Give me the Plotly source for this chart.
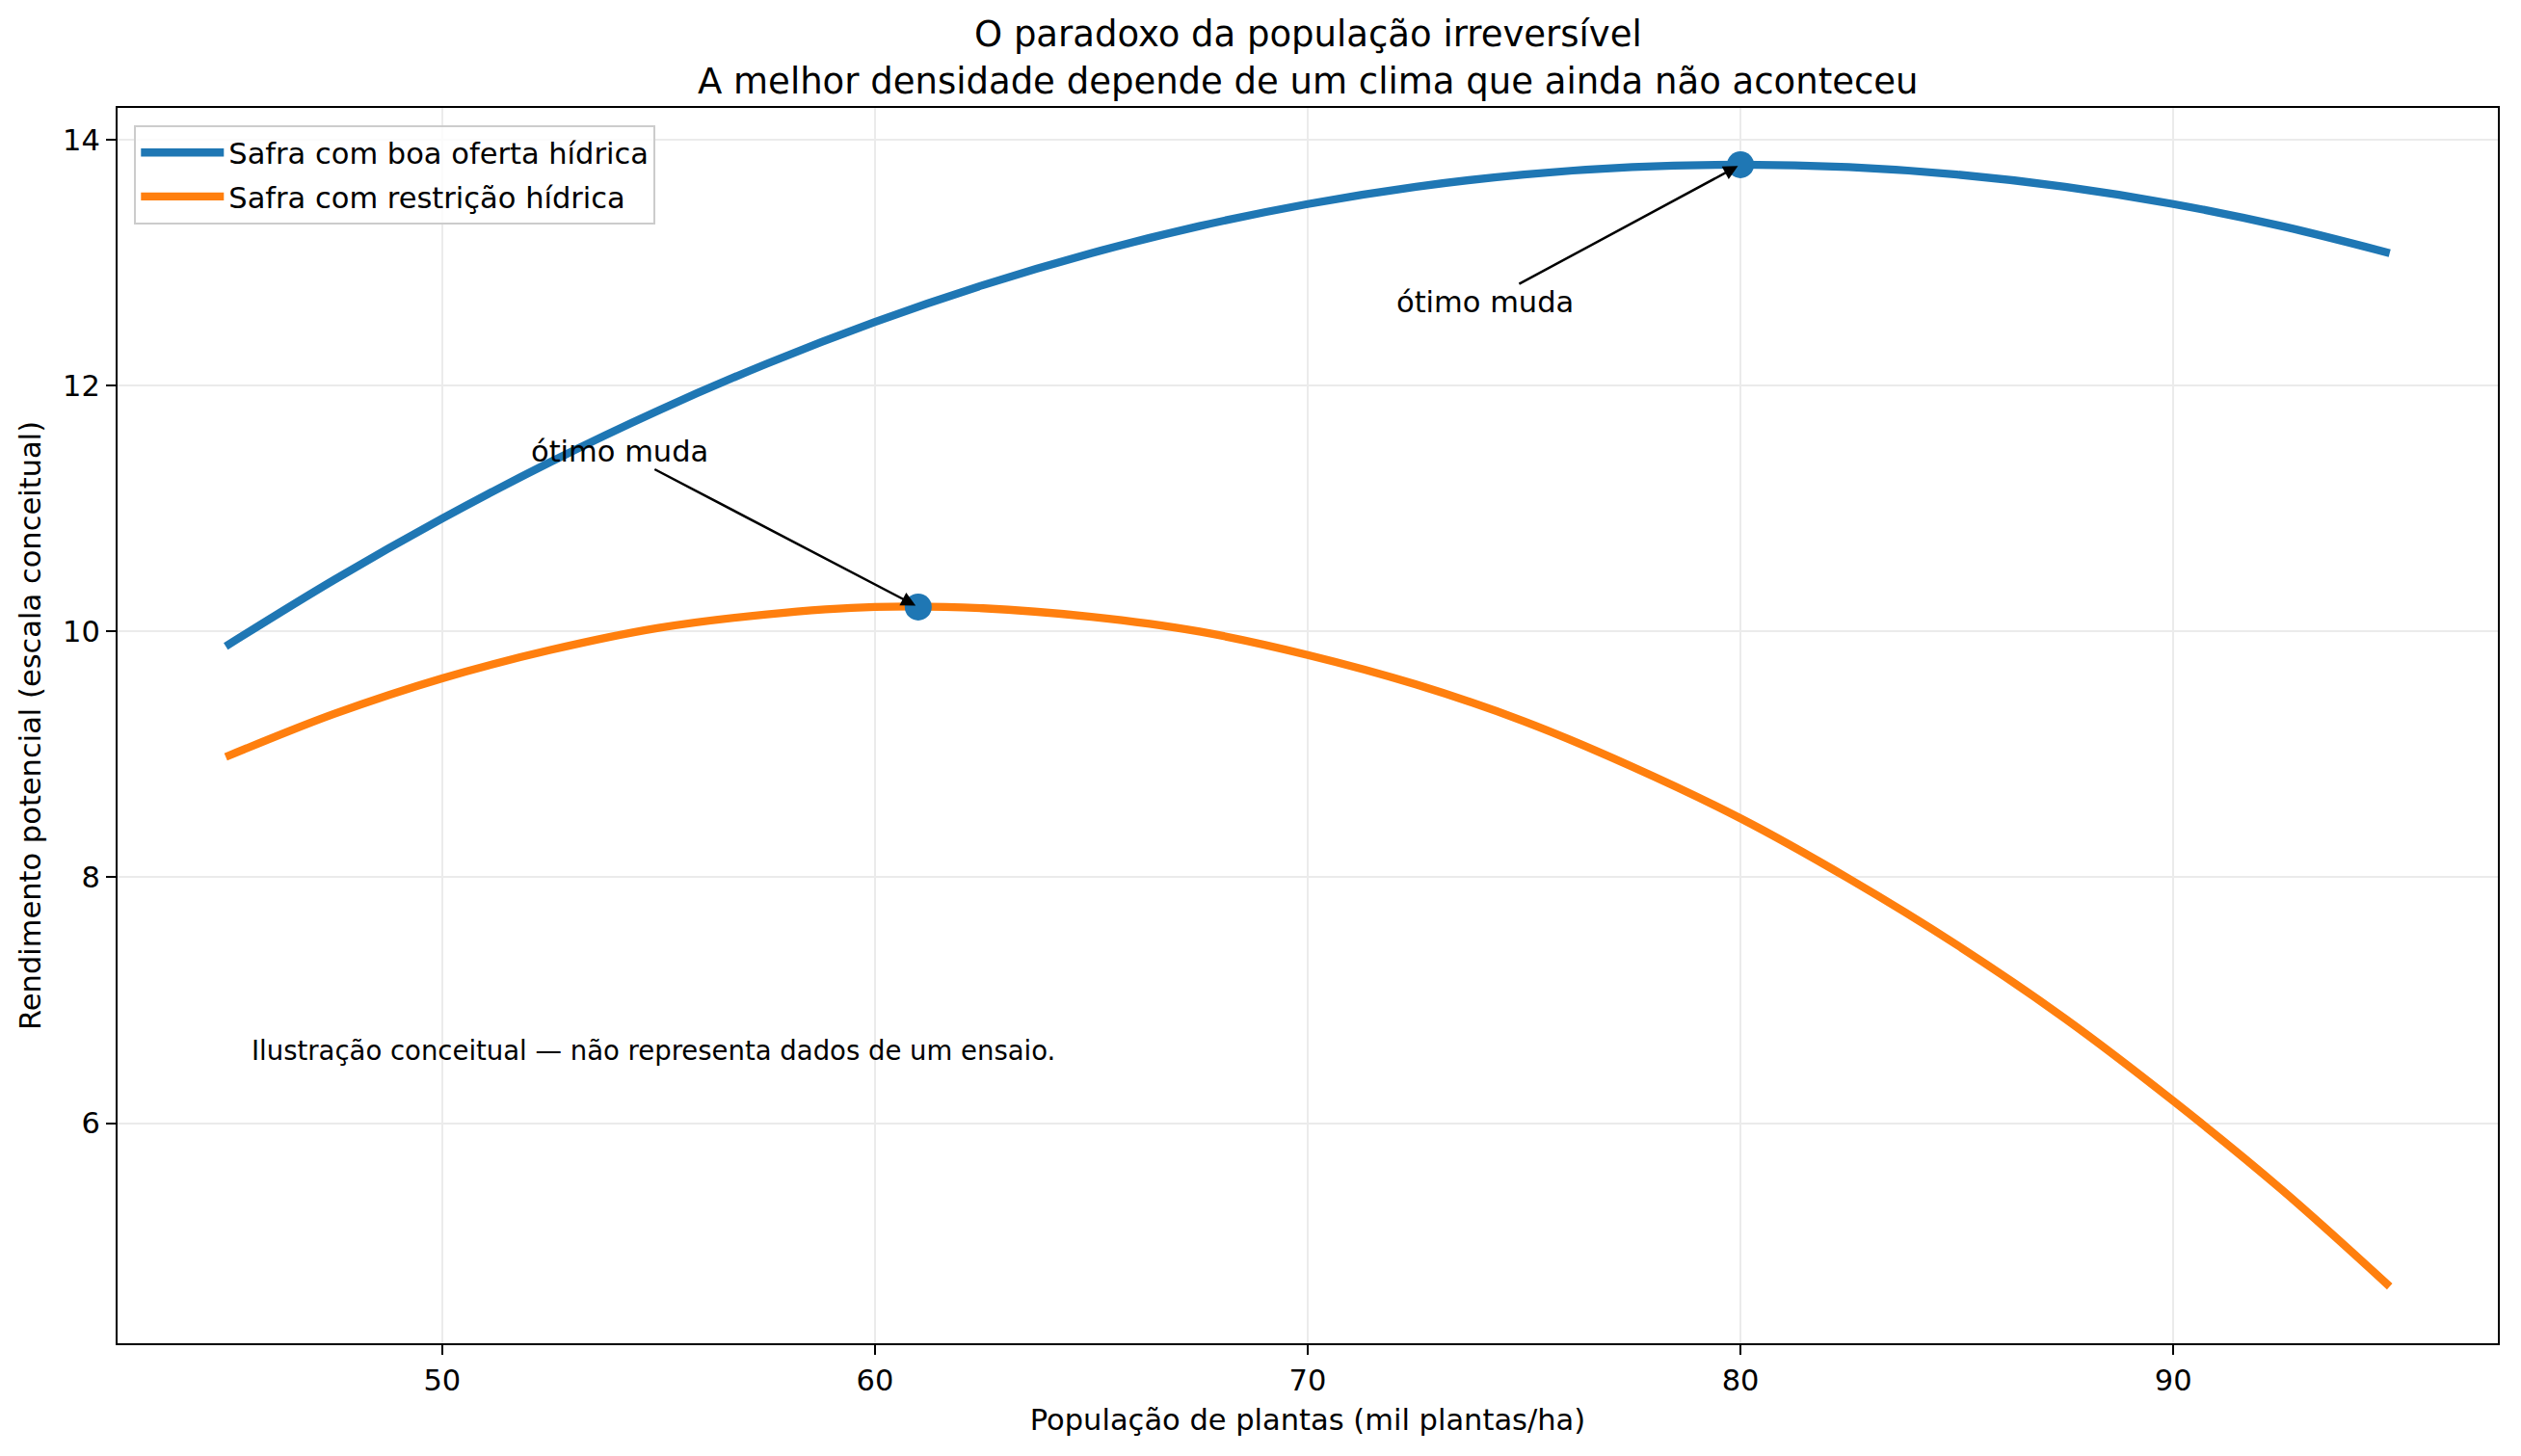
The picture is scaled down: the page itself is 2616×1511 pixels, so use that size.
import plotly.graph_objects as go

# Populações (mil plantas/ha)
populacao = [45, 47.5, 50, 52.5, 55, 57.5, 60, 62.5, 65, 67.5, 70,
             72.5, 75, 77.5, 80, 82.5, 85, 87.5, 90, 92.5, 95]

# Rendimento potencial (escala conceitual)
rend_boa_oferta = [9.88, 10.42, 10.92, 11.38, 11.80, 12.18, 12.52, 12.82, 13.08, 13.30, 13.48,
                   13.62, 13.72, 13.78, 13.80, 13.78, 13.72, 13.62, 13.48, 13.30, 13.08]
rend_restricao = [8.98, 9.33, 9.62, 9.85, 10.03, 10.14, 10.20, 10.19, 10.12, 10.00, 9.81,
                  9.57, 9.27, 8.90, 8.48, 7.99, 7.45, 6.85, 6.18, 5.46, 4.67]

# Pontos ótimos de cada cenário
otimo_x = [80, 61]
otimo_y = [13.80, 10.20]

titulo = ["O paradoxo da população irreversível",
          "A melhor densidade depende de um clima que ainda não aconteceu"]
nomes = ["Safra com boa oferta hídrica", "Safra com restrição hídrica"]
nota = "Ilustração conceitual — não representa dados de um ensaio."

FONT = "DejaVu Sans"
AZUL = "#1f77b4"
LARANJA = "#ff7f0e"
TAM = 30.5

fig = go.Figure()

fig.add_trace(go.Scatter(x=populacao, y=rend_boa_oferta, mode="lines", name=nomes[0],
                         line=dict(color=AZUL, width=8.3, shape="spline"),
                         legendgroup="a"))
fig.add_trace(go.Scatter(x=populacao, y=rend_restricao, mode="lines", name=nomes[1],
                         line=dict(color=LARANJA, width=8.3, shape="spline"),
                         legendgroup="b"))
fig.add_trace(go.Scatter(x=otimo_x, y=otimo_y, mode="markers", showlegend=False,
                         marker=dict(color=AZUL, size=28)))

# setas "ótimo muda" (texto centrado na cauda da seta)
for (px_, py_), (tx, ty) in zip(zip(otimo_x, otimo_y), [(74.1, 12.68), (54.1, 11.47)]):
    fig.add_annotation(x=px_, y=py_, ax=tx, ay=ty, xref="x", yref="y", axref="x", ayref="y",
                       text="ótimo muda", showarrow=True, arrowhead=2, arrowsize=1.2,
                       arrowwidth=2.5, arrowcolor="black", standoff=3,
                       font=dict(family=FONT, size=TAM, color="black"))

# título em duas linhas
for linha, dy in [(titulo[0], 77), (titulo[1], 28)]:
    fig.add_annotation(text=linha, xref="paper", yref="paper", x=0.5, y=1, yshift=dy,
                       xanchor="center", yanchor="middle", showarrow=False,
                       font=dict(family=FONT, size=37, color="black"))

fig.add_annotation(text=nota, xref="paper", yref="paper", x=0.0555, y=0.237,
                   xanchor="left", yanchor="middle", showarrow=False,
                   font=dict(family=FONT, size=27.5, color="black"))

eixo = dict(showline=True, linecolor="black", linewidth=2.2, mirror=True,
            ticks="outside", ticklen=10, tickwidth=2.2, tickcolor="black",
            showgrid=True, gridcolor="#ebebeb", gridwidth=2, zeroline=False,
            tickfont=dict(family=FONT, size=TAM, color="black"))

fig.update_layout(
    width=2600, height=1495,
    margin=dict(l=114, r=16, t=104, b=109),
    paper_bgcolor="white", plot_bgcolor="white",
    font=dict(family=FONT, size=TAM, color="black"),
    showlegend=True,
    legend=dict(x=0.007, y=0.986, xanchor="left", yanchor="top",
                bgcolor="rgba(255,255,255,0.8)", bordercolor="#cccccc", borderwidth=2,
                font=dict(family=FONT, size=TAM, color="black"),
                traceorder="grouped", tracegroupgap=3, itemwidth=86),
)
fig.update_xaxes(**eixo, range=[42.5, 97.5], tickvals=[50, 60, 70, 80, 90],
                 title=dict(text="População de plantas (mil plantas/ha)", standoff=14,
                            font=dict(family=FONT, size=TAM, color="black")))
fig.update_yaxes(**eixo, range=[4.208, 14.262], tickvals=[6, 8, 10, 12, 14],
                 title=dict(text="Rendimento potencial (escala conceitual)", standoff=13,
                            font=dict(family=FONT, size=TAM, color="black")))

fig.write_html("out.html")
